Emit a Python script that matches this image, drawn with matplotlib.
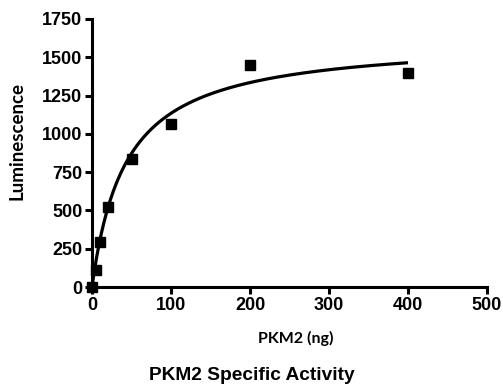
import numpy as np
import matplotlib
matplotlib.use("Agg")
import matplotlib.pyplot as plt

# measured points
pkm2_ng = [0, 5, 10, 20, 50, 100, 200, 400]
luminescence = [0, 110, 297, 524, 838, 1067, 1447, 1400]

# Michaelis-Menten fit parameters
vmax = 1622
km = 43

x_ticks = [0, 100, 200, 300, 400, 500]
y_ticks = [0, 250, 500, 750, 1000, 1250, 1500, 1750]

fig = plt.figure(figsize=(5.03, 3.90), dpi=100)
ax = fig.add_axes([92 / 503, 1 - 287 / 390, (487 - 92) / 503, (287 - 19) / 390])

xfit = np.linspace(0, max(pkm2_ng), 400)
yfit = vmax * xfit / (km + xfit)
ax.plot(xfit, yfit, color="black", lw=2.3, solid_capstyle="butt")
ax.plot(pkm2_ng, luminescence, "s", color="black", ms=7.5, clip_on=False)

ax.set_xlim(0, 500)
ax.set_ylim(0, 1750)
ax.set_xticks(x_ticks)
ax.set_yticks(y_ticks)

for side in ("top", "right"):
    ax.spines[side].set_visible(False)
for side in ("left", "bottom"):
    ax.spines[side].set_linewidth(2.2)

ax.tick_params(direction="out", length=5, width=2.2, pad=2)
for lab in ax.get_xticklabels() + ax.get_yticklabels():
    lab.set_fontfamily("Liberation Sans")
    lab.set_fontweight("bold")
    lab.set_fontsize(13)

ax.set_xlabel("PKM2 (ng)", fontfamily="Lato", fontweight="bold", fontsize=11.5)
ax.xaxis.set_label_coords(296 / 503, 1 - 331 / 390, transform=fig.transFigure)
ax.set_ylabel("Luminescence", fontfamily="Lato", fontweight="bold", fontsize=13.5)
ax.yaxis.set_label_coords(26 / 503, 1 - 141 / 390, transform=fig.transFigure)

fig.text(0.5, 1 - 376 / 390, "PKM2 Specific Activity", ha="center", va="center",
         fontfamily="Liberation Sans", fontweight="bold", fontsize=13.8)

fig.savefig("out.png", dpi=100)
